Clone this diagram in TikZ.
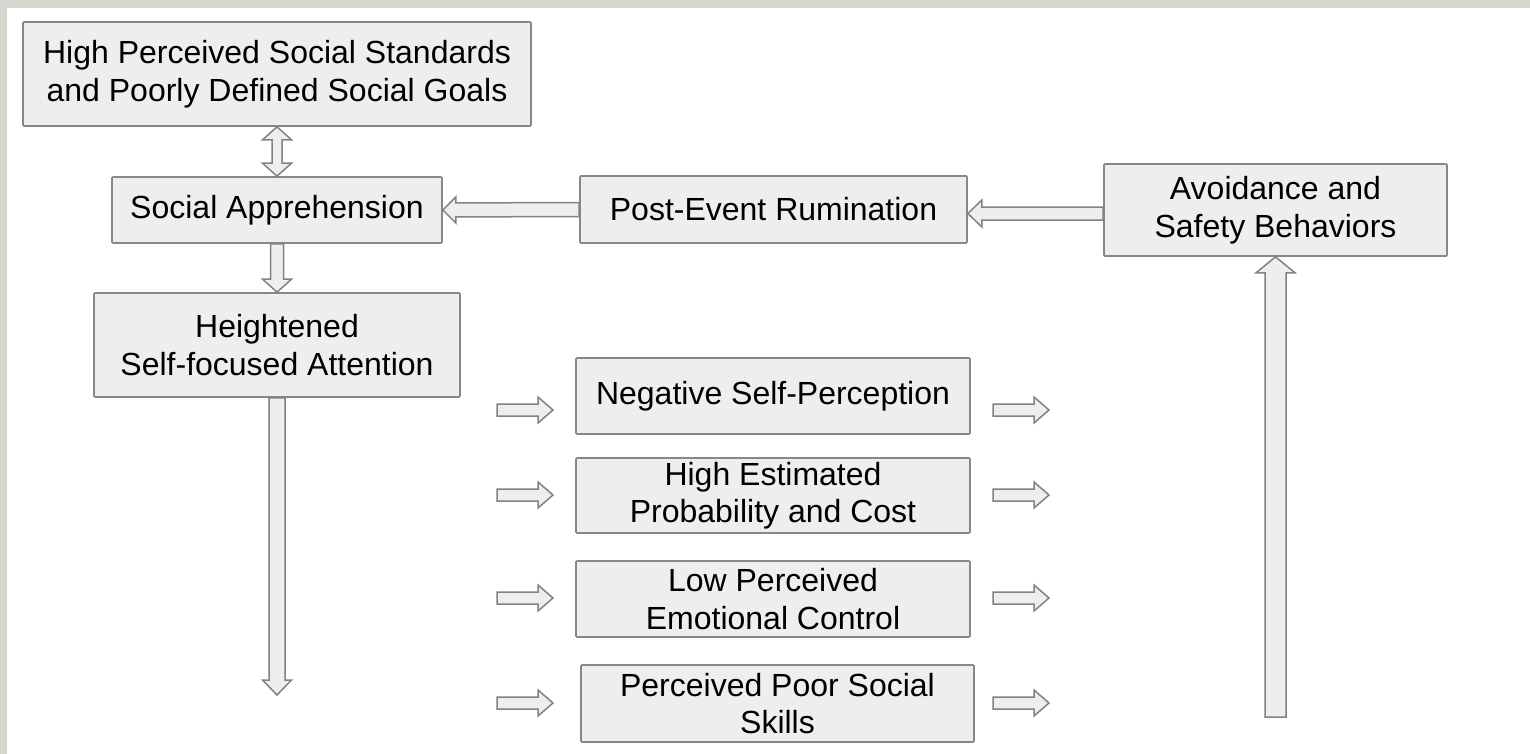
\documentclass[tikz,border=0pt]{standalone}
\usepackage{fontspec}
\setmainfont{Liberation Sans}
\usetikzlibrary{calc}
\definecolor{bgband}{RGB}{215,215,207}
\definecolor{boxfill}{RGB}{238,238,238}
\definecolor{boxline}{RGB}{135,135,135}
\definecolor{arrline}{RGB}{130,130,130}
% single block arrow: #1 start, #2 tip, #3 shaft half width, #4 head half width, #5 head length
\newcommand{\blockarr}[5]{%
  \coordinate (ba-h) at ($(#2)!#5!(#1)$);
  \draw[barr] ($(#1)!#3!90:(#2)$) -- ($(ba-h)!#3!-90:(#1)$) -- ($(ba-h)!#4!-90:(#1)$) -- (#2)
     -- ($(ba-h)!#4!90:(#1)$) -- ($(ba-h)!#3!90:(#1)$) -- ($(#1)!#3!-90:(#2)$) -- cycle;}
% double block arrow
\newcommand{\dblockarr}[5]{%
  \coordinate (ba-h1) at ($(#1)!#5!(#2)$);
  \coordinate (ba-h2) at ($(#2)!#5!(#1)$);
  \draw[barr] (#1) -- ($(ba-h1)!#4!90:(#2)$) -- ($(ba-h1)!#3!90:(#2)$) -- ($(ba-h2)!#3!-90:(#1)$)
     -- ($(ba-h2)!#4!-90:(#1)$) -- (#2) -- ($(ba-h2)!#4!90:(#1)$) -- ($(ba-h2)!#3!90:(#1)$)
     -- ($(ba-h1)!#3!-90:(#2)$) -- ($(ba-h1)!#4!-90:(#2)$) -- cycle;}
\begin{document}
\begin{tikzpicture}[x=1pt,y=-1pt,
  box/.style={draw=boxline, fill=boxfill, line width=1.7pt, inner sep=0pt, align=center,
    font=\fontsize{32}{37.5}\selectfont, rounded corners=1pt},
  barr/.style={draw=arrline, fill=boxfill, line width=1.5pt, line join=miter}]
\useasboundingbox (0,0) rectangle (1530,754);
\fill[white] (0,0) rectangle (1530,754);
\fill[bgband] (0,0) rectangle (1530,8);
\fill[bgband] (0,0) rectangle (7,754);

% boxes
\node[box, minimum width=508pt, minimum height=104pt] (b1) at (277,74) {High Perceived Social Standards\\and Poorly Defined Social Goals};
\node[box, minimum width=330pt, minimum height=66pt] (b2) at (277,210) {Social Apprehension};
\node[box, minimum width=366pt, minimum height=104pt] (b3) at (277,345) {Heightened\\Self-focused Attention};
\node[box, minimum width=387pt, minimum height=67pt] (pe) at (773.5,209.5) {Post-Event Rumination};
\node[box, minimum width=343pt, minimum height=92pt] (av) at (1275.5,210) {Avoidance and\\Safety Behaviors};
\node[box, minimum width=394pt, minimum height=76pt] (n1) at (773,396) {Negative Self-Perception};
\node[box, minimum width=394pt, minimum height=75pt] (n2) at (773,495.5) {High Estimated\\Probability and Cost};
\node[box, minimum width=394pt, minimum height=76pt] (n3) at (773,599) {Low Perceived\\Emotional Control};
\node[box, minimum width=393pt, minimum height=77pt] (n4) at (777.5,703.5) {Perceived Poor Social\\Skills};

% free ends and aligned ends
\coordinate (petip) at ($(pe.east)+(0,4)$);
\coordinate (avstart) at (av.west |- petip);
\coordinate (downend) at (277,695);
\coordinate (upstart) at (1275.5,717);
\coordinate (l1s) at (497,410);   \coordinate (l1t) at (553,410);
\coordinate (l2s) at (497,495);   \coordinate (l2t) at (553,495);
\coordinate (l3s) at (497,598);   \coordinate (l3t) at (553,598);
\coordinate (l4s) at (497,703);   \coordinate (l4t) at (553,703);
\coordinate (r1s) at (993,410);   \coordinate (r1t) at (1049,410);
\coordinate (r2s) at (993,495);   \coordinate (r2t) at (1049,495);
\coordinate (r3s) at (993,598);   \coordinate (r3t) at (1049,598);
\coordinate (r4s) at (993,703);   \coordinate (r4t) at (1049,703);

% connectors
\dblockarr{b1.south}{b2.north}{5pt}{14.5pt}{13pt}
\blockarr{b2.south}{b3.north}{6.5pt}{14.5pt}{13pt}
\blockarr{b3.south}{downend}{8pt}{14.5pt}{15pt}
\blockarr{pe.west}{b2.east}{7pt}{13pt}{13pt}
\blockarr{avstart}{petip}{6.5pt}{13.5pt}{14pt}
\blockarr{upstart}{av.south}{10.5pt}{19.5pt}{16pt}
\blockarr{l1s}{l1t}{6pt}{13pt}{15pt}
\blockarr{l2s}{l2t}{6pt}{13pt}{15pt}
\blockarr{l3s}{l3t}{6pt}{13pt}{15pt}
\blockarr{l4s}{l4t}{6pt}{13pt}{15pt}
\blockarr{r1s}{r1t}{6pt}{13pt}{15pt}
\blockarr{r2s}{r2t}{6pt}{13pt}{15pt}
\blockarr{r3s}{r3t}{6pt}{13pt}{15pt}
\blockarr{r4s}{r4t}{6pt}{13pt}{15pt}
\end{tikzpicture}
\end{document}
